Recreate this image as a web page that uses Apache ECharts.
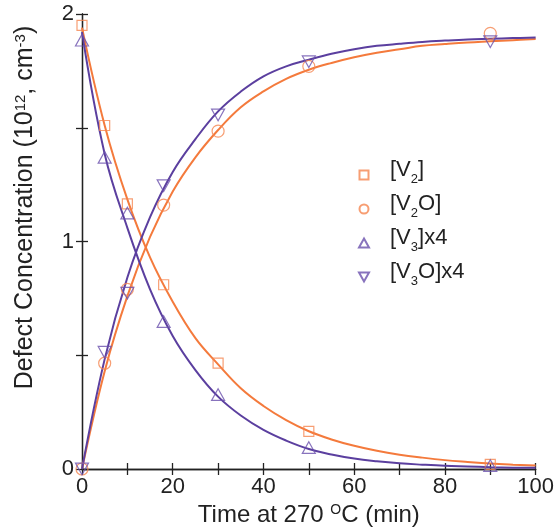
<!DOCTYPE html>
<html>
<head>
<meta charset="utf-8">
<script src="https://cdn.jsdelivr.net/npm/echarts@6/dist/echarts.min.js"></script>
<style>html,body{margin:0;padding:0;background:#fff}#c{width:557px;height:532px}</style>
</head>
<body>
<div id="c"></div>
<script>
// measured points (time in min)
const xPts = [0, 5, 10, 18, 30, 50, 90];
const v2  = [1.95, 1.51, 1.165, 0.81, 0.465, 0.165, 0.02];
const v2o = [0, 0.465, 0.79, 1.16, 1.485, 1.77, 1.915];
const v3  = [1.885, 1.37, 1.125, 0.648, 0.327, 0.094, 0.015];
const v3o = [0, 0.513, 0.773, 1.245, 1.556, 1.79, 1.878];

// fitted curves
const curveX = [0, 5, 10, 15, 20, 25, 30, 35, 40, 45, 50, 55, 60, 65, 70, 75, 80, 85, 90, 95, 100];
const fitV2  = [1.94, 1.51, 1.185, 0.93, 0.735, 0.575, 0.46, 0.355, 0.277, 0.215, 0.166, 0.13, 0.102, 0.08, 0.063, 0.05, 0.039, 0.031, 0.024, 0.019, 0.015];
const fitV2O = [0, 0.43, 0.76, 1.02, 1.22, 1.37, 1.49, 1.59, 1.66, 1.715, 1.755, 1.785, 1.81, 1.83, 1.845, 1.86, 1.868, 1.875, 1.88, 1.885, 1.89];
const fitV3  = [1.92, 1.385, 1.06, 0.79, 0.585, 0.435, 0.318, 0.235, 0.172, 0.125, 0.088, 0.064, 0.046, 0.034, 0.025, 0.019, 0.014, 0.011, 0.008, 0.006, 0.005];
const fitV3O = [0, 0.483, 0.842, 1.107, 1.306, 1.45, 1.572, 1.659, 1.726, 1.77, 1.799, 1.825, 1.845, 1.86, 1.869, 1.877, 1.883, 1.888, 1.891, 1.894, 1.897];

const names = ['[V2]', '[V2O]', '[V3]x4', '[V3O]x4'];
const xTicks = [0, 20, 40, 60, 80, 100];
const yTicks = [0, 1, 2];

const ORANGE = '#F47A3C', PURPLE = '#5B3F9F';
const ORANGE_M = '#F58650', PURPLE_M = '#6A50AC';
const FONT = 'Liberation Sans, Arial, sans-serif';
const SQUARE = 'path://M0,0 L10,0 L10,10 L0,10 Z';
const TRI_DOWN = 'path://M0,0 L10,0 L5,9 Z';
const TRI_UP = 'path://M5,0 L10,9 L0,9 Z';

const pairs = (xs, ys) => xs.map((x, i) => [x, ys[i]]);

const chart = echarts.init(document.getElementById('c'));

function scatter(name, ys, symbol, size, color) {
  return {
    name, type: 'scatter', data: pairs(xPts, ys), symbol, symbolSize: size,
    symbolKeepAspect: true, z: 5,
    itemStyle: { color: 'rgba(255,255,255,0)', borderColor: color, borderWidth: 1.2 }
  };
}
function curve(ys, color) {
  return {
    type: 'line', data: pairs(curveX, ys), smooth: 0.4,
    showSymbol: false, symbol: 'none',
    lineStyle: { color, width: 2 }, z: 3, silent: true
  };
}

const axisLine = { show: true, lineStyle: { color: '#222', width: 1.3 } };
const tick = { show: true, inside: true, length: 6, lineStyle: { color: '#222', width: 1.3 } };

chart.setOption({
  animation: false,
  backgroundColor: '#fff',
  textStyle: { fontFamily: FONT },
  grid: { left: 82, right: 19, top: 14, bottom: 63 },
  legend: {
    data: names.map(n => ({ name: n })),
    orient: 'vertical', left: 353, top: 150,
    itemWidth: 26, itemHeight: 9, itemGap: 3,
    textStyle: {
      fontFamily: FONT, fontSize: 22, color: '#222', padding: [0, 0, 0, 8],
      rich: {
        n: { fontFamily: FONT, fontSize: 22, color: '#222', lineHeight: 22, padding: [4, 0, 5, 0], verticalAlign: 'bottom' },
        sub: { fontFamily: FONT, fontSize: 13, color: '#222', lineHeight: 13, verticalAlign: 'bottom' }
      }
    },
    formatter: n => {
      const m = n.match(/^\[V(\d)(.*)$/);
      return '{n|[V}{sub|' + m[1] + '}{n|' + m[2] + '}';
    },
    selectedMode: false
  },
  xAxis: [{
    type: 'value', min: 0, max: 100, interval: 10,
    axisLine, axisTick: tick, splitLine: { show: false },
    axisLabel: {
      fontFamily: FONT, fontSize: 22, color: '#222', margin: 7,
      formatter: v => xTicks.includes(v) ? String(v) : ''
    },
    name: '{n|Time at 270 }{sup|O}{n|C (min)}',
    nameLocation: 'middle', nameGap: 32,
    nameTextStyle: {
      rich: {
        n: { fontFamily: FONT, fontSize: 24, color: '#222' },
        sup: { fontFamily: FONT, fontSize: 14, color: '#222', verticalAlign: 'top', padding: [0, 0, 10, 0] }
      }
    }
  }, {
    type: 'value', min: 0, max: 100, interval: 10, position: 'top',
    axisLine, axisTick: tick, axisLabel: { show: false }, splitLine: { show: false }
  }],
  yAxis: [{
    type: 'value', min: 0, max: 2, interval: 0.5,
    axisLine, axisTick: tick, splitLine: { show: false },
    axisLabel: {
      fontFamily: FONT, fontSize: 22, color: '#222', margin: 8,
      formatter: v => yTicks.includes(v) ? String(v) : ''
    },
    name: '{n|Defect Concentration (10}{sup|12}{n|, cm}{sup|-3}{n|)}',
    nameLocation: 'middle', nameGap: 44, nameRotate: 90,
    nameTextStyle: {
      padding: [0, 0, 0, 68],
      rich: {
        n: { fontFamily: FONT, fontSize: 25, color: '#222' },
        sup: { fontFamily: FONT, fontSize: 15, color: '#222', verticalAlign: 'top', padding: [0, 0, 10, 0] }
      }
    }
  }, {
    type: 'value', min: 0, max: 2, interval: 0.5, position: 'right',
    axisLine, axisTick: tick, axisLabel: { show: false }, splitLine: { show: false }
  }],
  series: [
    curve(fitV2, ORANGE),
    curve(fitV2O, ORANGE),
    curve(fitV3, PURPLE),
    curve(fitV3O, PURPLE),
    scatter(names[0], v2, SQUARE, 10, ORANGE_M),
    scatter(names[1], v2o, 'circle', 12, ORANGE_M),
    scatter(names[2], v3, TRI_UP, 13, PURPLE_M),
    scatter(names[3], v3o, TRI_DOWN, 13, PURPLE_M)
  ]
});
</script>
</body>
</html>
